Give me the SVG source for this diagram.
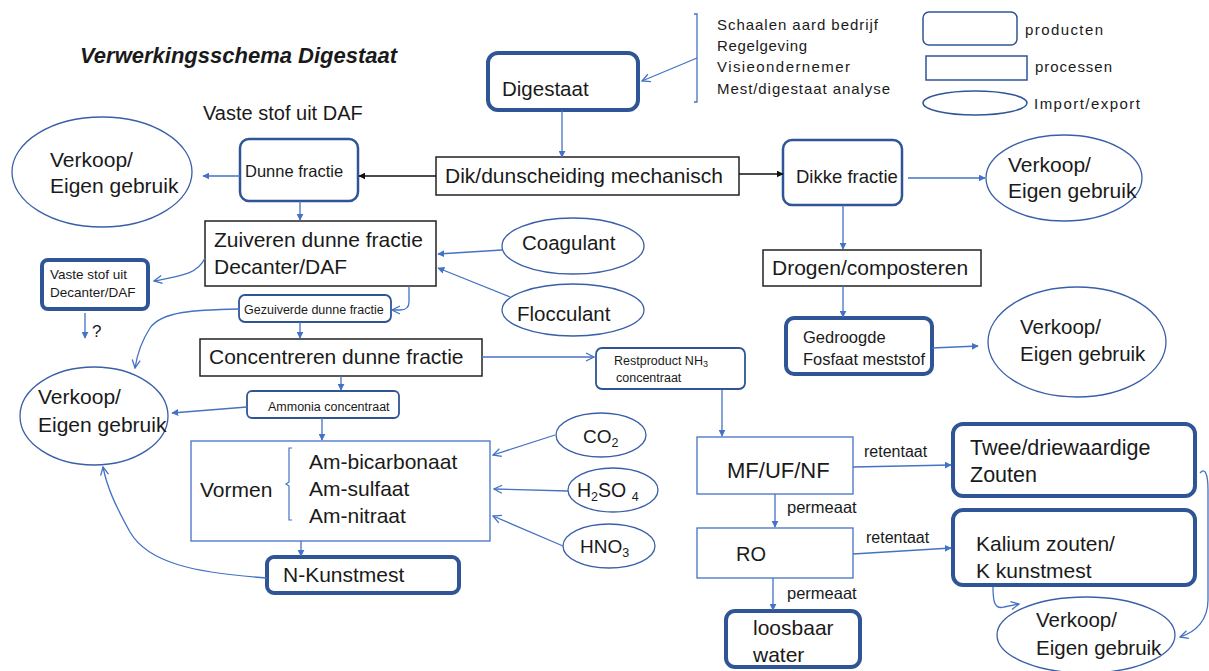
<svg xmlns="http://www.w3.org/2000/svg" width="1209" height="671" viewBox="0 0 1209 671">
<style>
text{font-family:"Liberation Sans",Arial,sans-serif;fill:#1a1a1a;}
.t21{font-size:21px;}
.vk{font-size:21px;}
.t15{font-size:15px;}
.t16{font-size:16px;}
.t13{font-size:13.5px;}
.t12{font-size:12.5px;}
.title{font-size:22px;font-weight:bold;font-style:italic;}
.prod{fill:#fff;stroke:#2F5597;stroke-width:4;}
.prodm{fill:#fff;stroke:#2F5597;stroke-width:2.5;}
.prods{fill:#fff;stroke:#2F5597;stroke-width:1.8;}
.proc{fill:#fff;stroke:#222;stroke-width:1.5;}
.procb{fill:#fff;stroke:#4472C4;stroke-width:1.3;}
.ell{fill:#fff;stroke:#3A5FA8;stroke-width:1.3;}
.ln{fill:none;stroke:#4472C4;stroke-width:1.3;}
.lnk{fill:none;stroke:#111;stroke-width:1.3;}
</style>
<defs>
<marker id="ab" viewBox="0 0 10 10" refX="9" refY="5" markerWidth="7" markerHeight="7" markerUnits="userSpaceOnUse" orient="auto"><path d="M0,0 L10,5 L0,10 z" fill="#4472C4"/></marker>
<marker id="ak" viewBox="0 0 10 10" refX="9" refY="5" markerWidth="7" markerHeight="7" markerUnits="userSpaceOnUse" orient="auto"><path d="M0,0 L10,5 L0,10 z" fill="#111"/></marker>
<marker id="av" viewBox="0 0 10 10" refX="9" refY="5" markerWidth="10" markerHeight="10" markerUnits="userSpaceOnUse" orient="auto"><path d="M1,1 L9,5 L1,9" fill="none" stroke="#4472C4" stroke-width="1.3"/></marker>
</defs>

<text x="80" y="63" class="title">Verwerkingsschema Digestaat</text>

<g id="legend">
<rect x="923" y="12" width="94" height="33" rx="6" fill="#fff" stroke="#2F5597" stroke-width="1.5"/>
<text x="1025" y="35" class="t15" textLength="78" lengthAdjust="spacing">producten</text>
<rect x="926" y="56" width="101" height="24" fill="#fff" stroke="#2F5597" stroke-width="1.5"/>
<text x="1035" y="72" class="t15" textLength="77" lengthAdjust="spacing">processen</text>
<ellipse cx="975" cy="103" rx="52" ry="12" fill="#fff" stroke="#2F5597" stroke-width="1.5"/>
<text x="1034" y="109" class="t15" textLength="106" lengthAdjust="spacing">Import/export</text>
</g>

<g id="factors">
<path d="M694,14 L697,14 L697,102 L694,102" fill="none" stroke="#4472C4" stroke-width="1.3"/>
<text x="717" y="30" class="t15" textLength="161" lengthAdjust="spacing">Schaalen aard bedrijf</text>
<text x="717" y="51" class="t15" textLength="90" lengthAdjust="spacing">Regelgeving</text>
<text x="717" y="72" class="t15" textLength="133" lengthAdjust="spacing">Visieondernemer</text>
<text x="717" y="94" class="t15" textLength="173" lengthAdjust="spacing">Mest/digestaat analyse</text>
</g>

<g id="digestaat"><rect x="488" y="53" width="150" height="57" rx="10" class="prod"/><text x="502" y="96" font-size="20.5">Digestaat</text></g>
<g id="dikdun"><rect x="436" y="157" width="303" height="38" class="proc"/><text x="445" y="183" class="t21">Dik/dunscheiding mechanisch</text></g>
<g id="vastestofdaf"><text x="203" y="120" font-size="20">Vaste stof uit DAF</text></g>
<g id="dunne"><rect x="240" y="139" width="118" height="62" rx="9" class="prodm"/><text x="245" y="177" font-size="16.5">Dunne fractie</text></g>
<g id="dikke"><rect x="783" y="140" width="119" height="65" rx="9" class="prodm"/><text x="796" y="183" font-size="18.5">Dikke fractie</text></g>
<g id="verkoop1"><ellipse cx="102" cy="172" rx="90" ry="55" class="ell"/><text x="50" y="167" class="vk">Verkoop/</text><text x="50" y="193" class="vk">Eigen gebruik</text></g>
<g id="verkoop2"><ellipse cx="1064" cy="178" rx="78" ry="43" class="ell"/><text x="1008" y="172" class="vk">Verkoop/</text><text x="1008" y="198" class="vk">Eigen gebruik</text></g>
<g id="zuiveren"><rect x="205" y="221" width="231" height="65" class="proc"/><text x="214" y="247" class="t21">Zuiveren dunne fractie</text><text x="214" y="274" class="t21">Decanter/DAF</text></g>
<g id="coagulant"><ellipse cx="573" cy="246" rx="71" ry="28" class="ell"/><text x="522" y="250" font-size="20.5">Coagulant</text></g>
<g id="flocculant"><ellipse cx="573" cy="310" rx="71" ry="26" class="ell"/><text x="517" y="321" font-size="20.5">Flocculant</text></g>
<g id="vastestofdec"><rect x="42" y="260" width="106" height="49" rx="6" class="prod"/><text x="50" y="279" class="t13">Vaste stof uit</text><text x="50" y="297" class="t13">Decanter/DAF</text></g>
<g id="vraag"><text x="92" y="337" font-size="17">?</text></g>
<g id="gezuiverd"><rect x="239" y="295" width="152" height="27" rx="6" class="prods"/><text x="244" y="314" class="t12">Gezuiverde dunne fractie</text></g>
<g id="concentreren"><rect x="200" y="339" width="282" height="37" class="proc"/><text x="209" y="364" class="t21">Concentreren dunne fractie</text></g>
<g id="restproduct"><rect x="596" y="348" width="149" height="41" rx="6" class="prods"/><text x="614" y="365" class="t12">Restproduct NH<tspan font-size="9" dy="2">3</tspan></text><text x="616" y="382" class="t12">concentraat</text></g>
<g id="drogen"><rect x="763" y="250" width="218" height="36" class="proc"/><text x="772" y="275" class="t21">Drogen/composteren</text></g>
<g id="gedroogde"><rect x="786" y="318" width="146" height="56" rx="8" class="prod"/><text x="803" y="343" font-size="16.5">Gedroogde</text><text x="803" y="365" font-size="16.5">Fosfaat meststof</text></g>
<g id="verkoop3"><ellipse cx="1077" cy="342" rx="89" ry="55" class="ell"/><text x="1020" y="334" font-size="20.5">Verkoop/</text><text x="1020" y="361" font-size="20.5">Eigen gebruik</text></g>
<g id="ammonia"><rect x="247" y="391" width="152" height="27" rx="5" class="prods"/><text x="268" y="411" class="t12">Ammonia concentraat</text></g>
<g id="verkoop4"><ellipse cx="94" cy="416" rx="74" ry="49" class="ell"/><text x="38" y="404" class="vk">Verkoop/</text><text x="38" y="432" class="vk">Eigen gebruik</text></g>
<g id="vormen"><rect x="191" y="441" width="299" height="100" class="procb"/><text x="200" y="497" class="t21">Vormen</text>
<path d="M292,448 L289,448 L289,482 L286,484 L289,486 L289,520 L292,520" fill="none" stroke="#4472C4" stroke-width="1.2"/>
<text x="309" y="469" class="t21">Am-bicarbonaat</text><text x="309" y="496" class="t21">Am-sulfaat</text><text x="309" y="523" class="t21">Am-nitraat</text></g>
<g id="co2"><ellipse cx="601" cy="435" rx="45" ry="22" class="ell"/><text x="583" y="443" font-size="19">CO<tspan font-size="12.5" dy="4">2</tspan></text></g>
<g id="h2so4"><ellipse cx="613" cy="490" rx="45" ry="22" class="ell"/><text x="577" y="497" font-size="19.5">H<tspan font-size="12.5" dy="4">2</tspan><tspan dy="-4">SO </tspan><tspan font-size="12.5" dy="4">4</tspan></text></g>
<g id="hno3"><ellipse cx="609" cy="546" rx="46" ry="22" class="ell"/><text x="580" y="553" font-size="19">HNO<tspan font-size="12.5" dy="4">3</tspan></text></g>
<g id="nkunstmest"><rect x="267" y="557" width="192" height="36" rx="7" class="prod"/><text x="283" y="582" class="t21">N-Kunstmest</text></g>
<g id="mfufnf"><rect x="697" y="437" width="156" height="57" class="procb"/><text x="727" y="478" font-size="22">MF/UF/NF</text></g>
<g id="ro"><rect x="697" y="528" width="156" height="50" class="procb"/><text x="736" y="561" font-size="20">RO</text></g>
<g id="twee"><rect x="953" y="424" width="242" height="72" rx="10" class="prod"/><text x="970" y="455" font-size="21.5">Twee/driewaardige</text><text x="970" y="482" font-size="21.5">Zouten</text></g>
<g id="kalium"><rect x="953" y="510" width="242" height="75" rx="10" class="prod"/><text x="976" y="551" class="t21">Kalium zouten/</text><text x="976" y="578" class="t21">K kunstmest</text></g>
<g id="loosbaar"><rect x="726" y="611" width="134" height="56" rx="9" class="prod"/><text x="753" y="635" class="t21">loosbaar</text><text x="753" y="662" class="t21">water</text></g>
<g id="verkoop5"><ellipse cx="1086" cy="635" rx="89" ry="38" class="ell"/><text x="1036" y="627" font-size="20.5">Verkoop/</text><text x="1036" y="655" font-size="20.5">Eigen gebruik</text></g>

<g id="labels">
<text x="864" y="457" class="t16">retentaat</text>
<text x="866" y="543" class="t16">retentaat</text>
<text x="787" y="513" font-size="16.5">permeaat</text>
<text x="787" y="599" font-size="16.5">permeaat</text>
</g>

<g id="connectors">
<line x1="697" y1="58" x2="642" y2="81" class="ln" marker-end="url(#av)"/>
<line x1="562" y1="110" x2="562" y2="157" class="ln" marker-end="url(#ab)"/>
<line x1="436" y1="176" x2="359" y2="176" class="lnk" marker-end="url(#ak)"/>
<line x1="739" y1="174" x2="783" y2="174" class="lnk" marker-end="url(#ak)"/>
<line x1="240" y1="176" x2="203" y2="176" class="ln" marker-end="url(#ab)"/>
<line x1="908" y1="178" x2="985" y2="178" class="ln" marker-end="url(#ab)"/>
<line x1="300" y1="201" x2="300" y2="220" class="ln" marker-end="url(#ab)"/>
<line x1="843" y1="205" x2="843" y2="249" class="ln" marker-end="url(#ab)"/>
<line x1="843" y1="286" x2="843" y2="317" class="ln" marker-end="url(#ab)"/>
<line x1="932" y1="348" x2="978" y2="346" class="ln" marker-end="url(#ab)"/>
<line x1="502" y1="250" x2="438" y2="254" class="ln" marker-end="url(#ab)"/>
<line x1="510" y1="297" x2="438" y2="268" class="ln" marker-end="url(#ab)"/>
<path d="M205,258 C198,274 180,276 154,281" class="ln" marker-end="url(#av)"/>
<line x1="85" y1="313" x2="85" y2="338" class="ln" marker-end="url(#ab)"/>
<path d="M409,286 L409,302 Q409,310 400,310 L392,310" class="ln" marker-end="url(#av)"/>
<path d="M239,309 C195,310 162,311 150,328 C141,342 137,355 135,368" class="ln" marker-end="url(#av)"/>
<line x1="300" y1="322" x2="300" y2="338" class="ln" marker-end="url(#ab)"/>
<line x1="482" y1="357" x2="594" y2="357" class="ln" marker-end="url(#av)"/>
<line x1="722" y1="390" x2="722" y2="436" class="ln" marker-end="url(#ab)"/>
<line x1="341" y1="376" x2="341" y2="390" class="ln" marker-end="url(#ab)"/>
<line x1="247" y1="407" x2="172" y2="413" class="ln" marker-end="url(#ab)"/>
<line x1="322" y1="418" x2="322" y2="440" class="ln" marker-end="url(#ab)"/>
<line x1="301" y1="541" x2="301" y2="556" class="ln" marker-end="url(#ab)"/>
<path d="M267,578 C195,573 148,563 130,532 C115,505 107,487 103,467" class="ln" marker-end="url(#av)"/>
<line x1="555" y1="435" x2="493" y2="455" class="ln" marker-end="url(#av)"/>
<line x1="568" y1="491" x2="494" y2="489" class="ln" marker-end="url(#av)"/>
<line x1="563" y1="546" x2="493" y2="516" class="ln" marker-end="url(#av)"/>
<line x1="853" y1="467" x2="951" y2="465" class="ln" marker-end="url(#ab)"/>
<line x1="775" y1="494" x2="775" y2="527" class="ln" marker-end="url(#ab)"/>
<line x1="853" y1="554" x2="951" y2="548" class="ln" marker-end="url(#ab)"/>
<line x1="773" y1="578" x2="773" y2="610" class="ln" marker-end="url(#ab)"/>
<path d="M993,587 C993,600 994,610 1004,607 L1019,604" class="ln" marker-end="url(#av)"/>
<path d="M1200,473 C1205,467 1208,474 1208,490 L1208,600 C1208,620 1196,632 1180,637" class="ln" marker-end="url(#av)"/>
</g>
</svg>
